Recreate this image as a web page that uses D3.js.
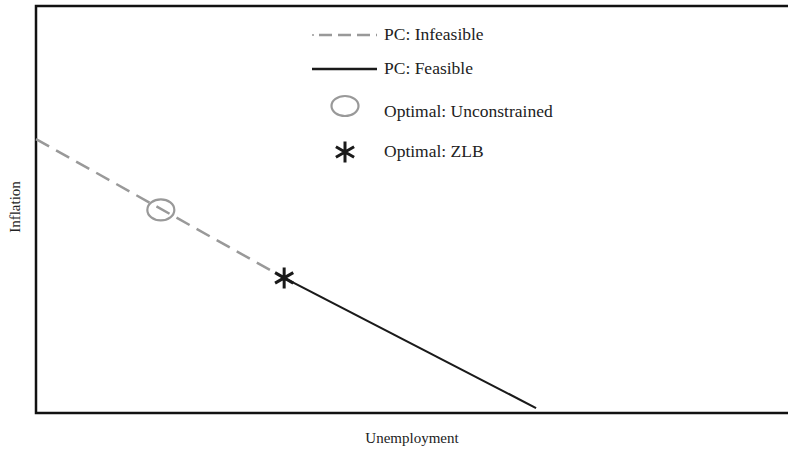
<!DOCTYPE html>
<html><head><meta charset="utf-8">
<script src="https://cdn.jsdelivr.net/npm/d3@7"></script>
<style>body{margin:0;background:#fff}svg{display:block}</style>
</head><body>
<svg id="c" width="788" height="450"></svg>
<script>
// Data (abstract units, 0..1)
const infeasible = [{u:0, pi:0.673},{u:0.33, pi:0.332}];
const feasible = [{u:0.33, pi:0.332},{u:0.665, pi:0.012}];
const optUnconstrained = [{u:0.166, pi:0.499}];
const optZLB = [{u:0.33, pi:0.332}];
const legendLabels = ["PC: Infeasible","PC: Feasible","Optimal: Unconstrained","Optimal: ZLB"];
const axisLabels = {x:"Unemployment", y:"Inflation"};

const svg = d3.select("#c");
const W=788,H=450;
const m={left:36,top:6,bottom:413};
const x = d3.scaleLinear().domain([0,1]).range([m.left, m.left+752]);
const y = d3.scaleLinear().domain([0,1]).range([m.bottom, m.bottom-407]);
const font = "'Liberation Serif', 'DejaVu Serif', serif";

// frame
svg.append("path")
  .attr("d", `M${W+5},${m.top}H${m.left}V${m.bottom}H${W+5}`)
  .attr("fill","none").attr("stroke","#111").attr("stroke-width",2.5);

const line = d3.line().x(d=>x(d.u)).y(d=>y(d.pi));
svg.append("path").datum(infeasible).attr("d",line)
  .attr("fill","none").attr("stroke","#999").attr("stroke-width",2.5)
  .attr("stroke-dasharray","15,8");
svg.append("path").datum(feasible).attr("d",line)
  .attr("fill","none").attr("stroke","#1a1a1a").attr("stroke-width",2.2);

svg.selectAll(".oc").data(optUnconstrained).enter().append("ellipse")
  .attr("cx",d=>x(d.u)).attr("cy",d=>y(d.pi)).attr("rx",13.5).attr("ry",10.5)
  .attr("fill","none").attr("stroke","#999").attr("stroke-width",2.2);

function star(cx,cy,r){
  let p="";
  for(let k=0;k<3;k++){
    const a=Math.PI/2 + k*Math.PI/3;
    const dx=r*Math.cos(a), dy=r*Math.sin(a);
    p+=`M${cx-dx},${cy-dy}L${cx+dx},${cy+dy}`;
  }
  return p;
}
svg.selectAll(".oz").data(optZLB).enter().append("path")
  .attr("d",d=>star(x(d.u),y(d.pi),10.5))
  .attr("stroke","#1a1a1a").attr("stroke-width",3).attr("fill","none");

// legend
const lg = svg.append("g");
const tx=384;
lg.append("circle").attr("cx",313).attr("cy",35).attr("r",1).attr("fill","#999");
lg.append("line").attr("x1",319).attr("x2",377).attr("y1",35).attr("y2",35)
  .attr("stroke","#999").attr("stroke-width",2.5).attr("stroke-dasharray","13,6");
lg.append("line").attr("x1",312).attr("x2",377).attr("y1",69).attr("y2",69)
  .attr("stroke","#1a1a1a").attr("stroke-width",2.5);
lg.append("ellipse").attr("cx",345).attr("cy",106).attr("rx",13.5).attr("ry",10)
  .attr("fill","none").attr("stroke","#999").attr("stroke-width",2.2);
lg.append("path").attr("d",star(345,152,10.5)).attr("stroke","#1a1a1a").attr("stroke-width",3);
const ly=[40,74,117,157];
lg.selectAll("text").data(legendLabels).enter().append("text")
  .attr("x",tx).attr("y",(d,i)=>ly[i]).text(d=>d)
  .attr("font-family",font).attr("font-size",17.5).attr("fill","#222");

svg.append("text").attr("x",412).attr("y",443).attr("text-anchor","middle")
  .attr("font-family",font).attr("font-size",15).attr("fill","#222").text(axisLabels.x);
svg.append("text").attr("transform","translate(20,207) rotate(-90)").attr("text-anchor","middle")
  .attr("font-family",font).attr("font-size",15).attr("fill","#222").text(axisLabels.y);
</script>
</body></html>
